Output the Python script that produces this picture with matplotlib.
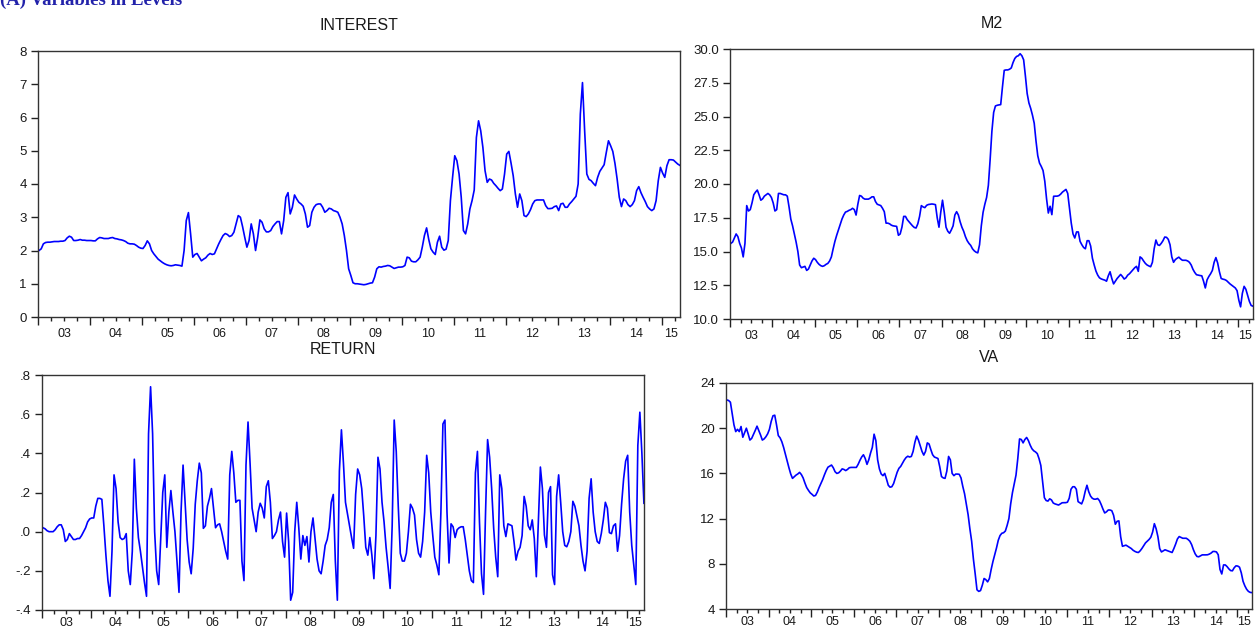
import numpy as np
import matplotlib
matplotlib.use('Agg')
import matplotlib.pyplot as plt
from matplotlib.transforms import offset_copy

# semi-monthly observations, first one just after the start of 2003
START = 2003.02
PER_YEAR = 24
X_MIN, X_MAX = 2003.0, 2015.355
YEARS = list(range(2003, 2016))

interest = [
    2.00, 2.05, 2.20, 2.24, 2.25, 2.25, 2.26, 2.27, 2.27, 2.27, 2.28, 2.28, 2.30, 2.38, 2.43, 2.40, 2.30, 2.30, 2.31, 2.33, 2.31, 2.31, 2.30, 2.30,
    2.30, 2.29, 2.29, 2.35, 2.39, 2.38, 2.36, 2.36, 2.36, 2.38, 2.39, 2.36, 2.35, 2.33, 2.32, 2.30, 2.27, 2.22, 2.20, 2.20, 2.19, 2.15, 2.10, 2.07,
    2.06, 2.15, 2.29, 2.20, 2.00, 1.90, 1.82, 1.74, 1.69, 1.64, 1.60, 1.57, 1.55, 1.54, 1.55, 1.57, 1.56, 1.55, 1.53, 2.00, 2.90, 3.14, 2.50, 1.80,
    1.88, 1.91, 1.80, 1.69, 1.74, 1.78, 1.86, 1.91, 1.88, 1.90, 2.05, 2.20, 2.33, 2.45, 2.51, 2.48, 2.42, 2.45, 2.55, 2.80, 3.05, 3.00, 2.72, 2.40,
    2.10, 2.30, 2.80, 2.50, 2.00, 2.40, 2.92, 2.85, 2.65, 2.56, 2.56, 2.60, 2.72, 2.80, 2.87, 2.87, 2.50, 2.90, 3.60, 3.74, 3.10, 3.30, 3.67, 3.55,
    3.45, 3.40, 3.33, 3.10, 2.70, 2.75, 3.15, 3.30, 3.38, 3.40, 3.40, 3.30, 3.15, 3.20, 3.27, 3.25, 3.20, 3.18, 3.15, 3.00, 2.80, 2.45, 2.00, 1.45,
    1.25, 1.03, 1.00, 1.00, 0.99, 0.98, 0.97, 0.98, 1.00, 1.02, 1.03, 1.20, 1.45, 1.51, 1.50, 1.52, 1.53, 1.55, 1.54, 1.50, 1.46, 1.48, 1.50, 1.50,
    1.51, 1.55, 1.80, 1.78, 1.68, 1.66, 1.66, 1.72, 1.80, 2.10, 2.45, 2.68, 2.33, 2.05, 1.95, 1.88, 2.25, 2.43, 2.10, 2.01, 2.04, 2.30, 3.50, 4.20,
    4.85, 4.70, 4.30, 3.60, 2.60, 2.50, 2.80, 3.25, 3.50, 3.82, 5.40, 5.90, 5.60, 5.10, 4.40, 4.05, 4.15, 4.12, 4.02, 3.95, 3.87, 3.80, 3.85, 4.30,
    4.90, 4.98, 4.63, 4.25, 3.70, 3.30, 3.70, 3.50, 3.05, 3.02, 3.10, 3.23, 3.40, 3.50, 3.52, 3.52, 3.52, 3.52, 3.35, 3.26, 3.26, 3.27, 3.32, 3.34,
    3.20, 3.40, 3.42, 3.30, 3.30, 3.40, 3.47, 3.55, 3.63, 4.00, 6.10, 7.05, 5.60, 4.30, 4.14, 4.10, 4.02, 3.95, 4.20, 4.38, 4.48, 4.58, 4.95, 5.30,
    5.15, 4.98, 4.62, 4.15, 3.60, 3.32, 3.55, 3.50, 3.38, 3.32, 3.38, 3.50, 3.80, 3.92, 3.74, 3.60, 3.47, 3.32, 3.25, 3.20, 3.25, 3.50, 4.10, 4.50,
    4.33, 4.20, 4.55, 4.73, 4.73, 4.72, 4.66, 4.60, 4.56,
]

m2 = [
    15.6, 15.7, 16.0, 16.3, 16.1, 15.6, 15.26, 14.6, 15.6, 18.4, 18.0, 18.1, 18.6, 19.2, 19.4, 19.55, 19.2, 18.8, 18.9, 19.1, 19.2, 19.3, 19.2, 19.0,
    18.6, 18.0, 18.1, 19.3, 19.3, 19.25, 19.2, 19.2, 19.1, 18.3, 17.4, 16.9, 16.3, 15.7, 15.0, 14.0, 13.8, 13.85, 13.9, 13.6, 13.7, 14.0, 14.3, 14.5,
    14.4, 14.2, 14.05, 13.95, 13.9, 13.95, 14.05, 14.12, 14.3, 14.6, 15.2, 15.75, 16.2, 16.6, 17.0, 17.4, 17.7, 17.92, 17.97, 18.05, 18.1, 18.2, 18.1, 17.7,
    18.5, 19.15, 19.1, 18.95, 18.88, 18.88, 18.88, 18.95, 19.05, 19.05, 18.7, 18.5, 18.45, 18.4, 18.2, 17.95, 17.1, 17.1, 17.05, 16.95, 16.9, 16.88, 16.86, 16.2,
    16.3, 16.8, 17.6, 17.6, 17.36, 17.2, 17.05, 16.9, 16.78, 16.74, 17.05, 17.6, 18.4, 18.3, 18.25, 18.42, 18.48, 18.5, 18.52, 18.5, 18.47, 17.5, 16.8, 17.9,
    18.8, 17.9, 16.8, 16.5, 16.35, 16.6, 16.9, 17.7, 17.95, 17.7, 17.2, 16.8, 16.5, 16.1, 15.8, 15.6, 15.45, 15.2, 15.05, 14.95, 14.9, 15.5, 16.9, 17.9,
    18.5, 19.0, 19.9, 21.8, 23.9, 25.3, 25.78, 25.83, 25.86, 25.88, 27.2, 28.42, 28.45, 28.45, 28.5, 28.6, 29.0, 29.3, 29.45, 29.5, 29.65, 29.5, 29.2, 28.0,
    26.7, 26.0, 25.6, 25.1, 24.5, 23.2, 22.1, 21.55, 21.3, 21.0, 20.2, 18.9, 17.85, 18.35, 17.73, 19.09, 19.1, 19.1, 19.14, 19.25, 19.4, 19.5, 19.6, 19.3,
    18.2, 17.1, 16.3, 16.0, 16.45, 16.45, 15.75, 15.5, 15.3, 15.2, 15.8, 15.8, 15.4, 14.5, 14.0, 13.55, 13.25, 13.05, 12.97, 12.92, 12.88, 12.8, 13.2, 13.5,
    13.0, 12.6, 12.8, 13.0, 13.15, 13.3, 13.15, 12.96, 13.05, 13.25, 13.35, 13.5, 13.65, 13.8, 13.9, 13.53, 14.6, 14.5, 14.3, 14.12, 14.0, 13.93, 13.87, 14.2,
    15.2, 15.85, 15.5, 15.45, 15.6, 15.8, 16.07, 16.05, 15.9, 15.5, 14.6, 14.2, 14.4, 14.5, 14.58, 14.45, 14.35, 14.35, 14.35, 14.3, 14.2, 14.0, 13.68, 13.45,
    13.28, 13.25, 13.22, 13.2, 12.8, 12.3, 12.9, 13.15, 13.35, 13.6, 14.2, 14.55, 14.15, 13.5, 13.0, 12.95, 12.92, 12.85, 12.72, 12.6, 12.5, 12.4, 12.3, 12.1,
    11.4, 10.9, 11.9, 12.42, 12.2, 11.75, 11.3, 11.0, 10.95,
]

ret = [
    0.020, 0.015, 0.005, 0.000, 0.000, 0.000, 0.010, 0.025, 0.035, 0.035, 0.010, -0.050, -0.040, -0.010, -0.025, -0.040, -0.040, -0.035, -0.035, -0.020, 0.000, 0.020, 0.050, 0.065,
    0.070, 0.070, 0.130, 0.170, 0.170, 0.165, 0.030, -0.120, -0.250, -0.330, -0.100, 0.290, 0.220, 0.050, -0.030, -0.040, -0.035, -0.010, -0.200, -0.270, -0.100, 0.370, 0.120, -0.030,
    -0.100, -0.180, -0.260, -0.330, 0.500, 0.740, 0.500, 0.000, -0.200, -0.270, -0.030, 0.200, 0.290, -0.080, 0.100, 0.210, 0.100, 0.000, -0.150, -0.310, 0.100, 0.340, 0.150, -0.040,
    -0.155, -0.215, -0.085, 0.140, 0.260, 0.350, 0.300, 0.017, 0.030, 0.130, 0.170, 0.220, 0.120, 0.020, 0.035, 0.040, 0.000, -0.050, -0.100, -0.140, 0.290, 0.410, 0.300, 0.150,
    0.160, 0.160, -0.150, -0.250, 0.340, 0.560, 0.350, 0.120, 0.060, 0.000, 0.100, 0.145, 0.120, 0.070, 0.230, 0.260, 0.150, -0.035, -0.020, 0.000, 0.060, 0.100, -0.050, -0.130,
    0.095, -0.050, -0.350, -0.310, 0.000, 0.150, 0.020, -0.140, -0.020, -0.070, -0.025, -0.155, 0.000, 0.070, -0.035, -0.140, -0.200, -0.215, -0.150, -0.070, -0.040, 0.020, 0.150, 0.190,
    -0.150, -0.350, 0.310, 0.520, 0.350, 0.150, 0.090, 0.030, -0.030, -0.085, 0.190, 0.320, 0.290, 0.220, 0.080, -0.080, -0.120, -0.030, -0.120, -0.240, -0.020, 0.380, 0.320, 0.150,
    0.050, -0.080, -0.180, -0.290, 0.030, 0.570, 0.410, 0.130, -0.110, -0.150, -0.150, -0.110, 0.000, 0.140, 0.120, 0.085, -0.040, -0.110, -0.130, -0.050, 0.100, 0.390, 0.300, 0.100,
    -0.020, -0.130, -0.170, -0.220, 0.100, 0.550, 0.570, 0.100, -0.160, 0.040, 0.025, -0.030, 0.010, 0.020, 0.025, 0.025, -0.040, -0.120, -0.200, -0.250, -0.260, 0.300, 0.410, 0.050,
    -0.215, -0.320, 0.100, 0.470, 0.380, 0.220, 0.017, -0.130, -0.230, 0.290, 0.220, 0.030, -0.025, 0.040, 0.035, 0.030, -0.050, -0.145, -0.100, -0.080, -0.020, 0.180, 0.130, 0.030,
    0.010, 0.060, -0.035, -0.230, 0.050, 0.330, 0.220, -0.017, -0.080, 0.200, 0.230, -0.220, -0.270, 0.180, 0.290, 0.150, 0.000, -0.070, -0.077, -0.050, 0.000, 0.155, 0.130, 0.080,
    0.030, -0.070, -0.150, -0.200, -0.100, 0.170, 0.270, 0.100, 0.000, -0.050, -0.060, -0.010, 0.060, 0.150, 0.120, -0.005, -0.010, 0.030, 0.040, -0.100, -0.020, 0.140, 0.270, 0.360,
    0.390, 0.100, -0.070, -0.170, -0.270, 0.440, 0.610, 0.400, 0.145,
]

va = [
    22.5, 22.45, 22.3, 21.3, 20.3, 19.7, 19.9, 19.7, 20.15, 19.2, 19.6, 20.0, 19.5, 18.95, 19.1, 19.45, 19.8, 20.18, 19.8, 19.4, 18.95, 19.05, 19.24, 19.5,
    19.9, 20.6, 21.1, 21.15, 20.3, 19.35, 19.15, 18.8, 18.3, 17.7, 17.1, 16.5, 15.95, 15.56, 15.7, 15.85, 15.95, 16.09, 15.9, 15.6, 15.15, 14.75, 14.5, 14.28,
    14.15, 14.0, 14.05, 14.35, 14.75, 15.1, 15.45, 15.87, 16.25, 16.55, 16.65, 16.74, 16.5, 16.15, 16.0, 16.05, 16.2, 16.4, 16.35, 16.25, 16.35, 16.5, 16.53, 16.53,
    16.53, 16.53, 16.8, 17.15, 17.45, 17.65, 17.32, 16.8, 17.2, 17.8, 18.3, 19.47, 18.9, 17.2, 16.4, 15.95, 15.8, 16.0, 15.5, 14.95, 14.78, 14.82, 15.1, 15.6,
    16.1, 16.45, 16.62, 16.9, 17.18, 17.4, 17.52, 17.45, 17.5, 17.95, 18.75, 19.3, 18.95, 18.45, 17.95, 17.62, 17.95, 18.7, 18.6, 18.1, 17.65, 17.45, 17.38, 17.32,
    16.6, 15.72, 15.6, 15.56, 16.2, 17.5, 17.2, 16.0, 15.8, 15.94, 15.94, 15.92, 15.6, 14.85, 14.2, 13.3, 12.35, 11.1, 10.0, 8.4, 7.1, 5.7, 5.56, 5.63,
    6.1, 6.7, 6.6, 6.4, 6.7, 7.5, 8.2, 8.8, 9.4, 10.08, 10.5, 10.7, 10.75, 10.9, 11.4, 12.0, 13.3, 14.3, 15.1, 15.85, 17.3, 19.05, 19.0, 18.7,
    19.0, 19.18, 18.9, 18.5, 18.18, 18.0, 17.9, 17.75, 17.3, 16.7, 15.3, 13.85, 13.6, 13.55, 13.75, 13.65, 13.38, 13.3, 13.25, 13.2, 13.3, 13.4, 13.41, 13.41,
    13.45, 13.8, 14.6, 14.82, 14.82, 14.6, 13.5, 13.4, 13.3, 13.7, 14.4, 14.95, 14.38, 14.0, 13.8, 13.72, 13.72, 13.78, 13.6, 13.25, 12.85, 12.5, 12.6, 12.76,
    12.76, 12.7, 12.3, 11.5, 11.76, 11.8, 10.4, 9.55, 9.6, 9.65, 9.55, 9.45, 9.35, 9.2, 9.1, 9.03, 9.0, 9.15, 9.36, 9.6, 9.85, 10.0, 10.15, 10.35,
    10.8, 11.55, 11.1, 10.4, 9.35, 9.05, 9.15, 9.24, 9.18, 9.12, 9.05, 9.0, 9.35, 9.75, 10.2, 10.41, 10.33, 10.26, 10.26, 10.26, 10.15, 10.0, 9.7, 9.25,
    8.88, 8.65, 8.62, 8.7, 8.79, 8.79, 8.79, 8.8, 8.86, 8.95, 9.09, 9.09, 9.05, 8.8, 7.5, 7.1, 7.9, 7.9, 7.75, 7.55, 7.4, 7.38, 7.65, 7.82,
    7.8, 7.7, 7.2, 6.45, 6.05, 5.75, 5.56, 5.47, 5.45,
]

year_labels = ['03', '04', '05', '06', '07', '08', '09', '10', '11', '12', '13', '14', '15']

interest_ticks = [0, 1, 2, 3, 4, 5, 6, 7, 8]
interest_labels = ['0', '1', '2', '3', '4', '5', '6', '7', '8']
m2_ticks = [10.0, 12.5, 15.0, 17.5, 20.0, 22.5, 25.0, 27.5, 30.0]
m2_labels = ['10.0', '12.5', '15.0', '17.5', '20.0', '22.5', '25.0', '27.5', '30.0']
ret_ticks = [-0.4, -0.2, 0.0, 0.2, 0.4, 0.6, 0.8]
ret_labels = ['-.4', '-.2', '.0', '.2', '.4', '.6', '.8']
va_ticks = [4, 8, 12, 16, 20, 24]
va_labels = ['4', '8', '12', '16', '20', '24']

W, H = 1256, 628


def px_rect(left, top, right, bottom):
    '''Pixel box (from top-left of the picture) to figure fractions.'''
    return [left / W, 1 - bottom / H, (right - left) / W, (bottom - top) / H]


def draw_panel(fig, box, values, title, yticks, ylabels, label_gap=8):
    ax = fig.add_axes(px_rect(*box))
    t = START + np.arange(len(values)) / PER_YEAR
    ax.plot(t, values, color='#0000ff', lw=1.2)

    ax.set_xlim(X_MIN, X_MAX)
    ax.set_ylim(yticks[0], yticks[-1])
    ax.set_yticks(yticks)
    ax.set_yticklabels(ylabels)

    # year boundaries as major ticks, quarters as minor ticks
    ax.set_xticks(YEARS)
    ax.set_xticklabels([])
    quarters = [y + q / 4 for y in YEARS for q in (1, 2, 3) if y + q / 4 < X_MAX]
    ax.set_xticks(quarters, minor=True)
    ax.tick_params(axis='x', which='major', direction='out', length=6, width=1, color='#222222')
    ax.tick_params(axis='x', which='minor', direction='out', length=3, width=1, color='#222222')
    ax.tick_params(axis='y', direction='out', length=5, width=1, color='#222222',
                   labelsize=9.5, labelcolor='#1a1a1a', pad=3)
    for s in ax.spines.values():
        s.set_linewidth(1.0)
        s.set_color('#333333')

    # year labels sit in the middle of each (visible part of the) year
    trans = offset_copy(ax.get_xaxis_transform(), fig=fig, y=-label_gap, units='points')
    for y, lab in zip(YEARS, year_labels):
        xc = (y + min(y + 1, X_MAX)) / 2
        ax.text(xc, 0, lab, transform=trans, ha='center', va='top',
                fontsize=9, color='#1a1a1a')

    x0, y0, w, h = px_rect(*box)
    fig.text(x0 + w / 2, y0 + h + 26 / H, title, ha='center', va='center',
             fontsize=11.5, color='#1a1a1a')
    return ax


def main():
    plt.rcParams['font.family'] = ['Liberation Sans', 'DejaVu Sans']
    fig = plt.figure(figsize=(W / 100, H / 100), dpi=100)

    # header, cut off at the top edge like in the source page
    fig.text(0.0, 1 - 5 / H, '(A) Variables in Levels', ha='left', va='baseline',
             fontsize=13.5, fontweight='bold', family='Liberation Serif', color='#2222aa')

    draw_panel(fig, (38, 51, 680, 317), interest, 'INTEREST', interest_ticks, interest_labels)
    draw_panel(fig, (730, 49, 1253, 319), m2, 'M2', m2_ticks, m2_labels)
    draw_panel(fig, (42, 375, 644, 610), ret, 'RETURN', ret_ticks, ret_labels, label_gap=5)
    draw_panel(fig, (726, 383, 1252, 609), va, 'VA', va_ticks, va_labels, label_gap=5)

    fig.savefig('out.png', dpi=100)
    plt.close(fig)


if __name__ == "__main__":
    main()
